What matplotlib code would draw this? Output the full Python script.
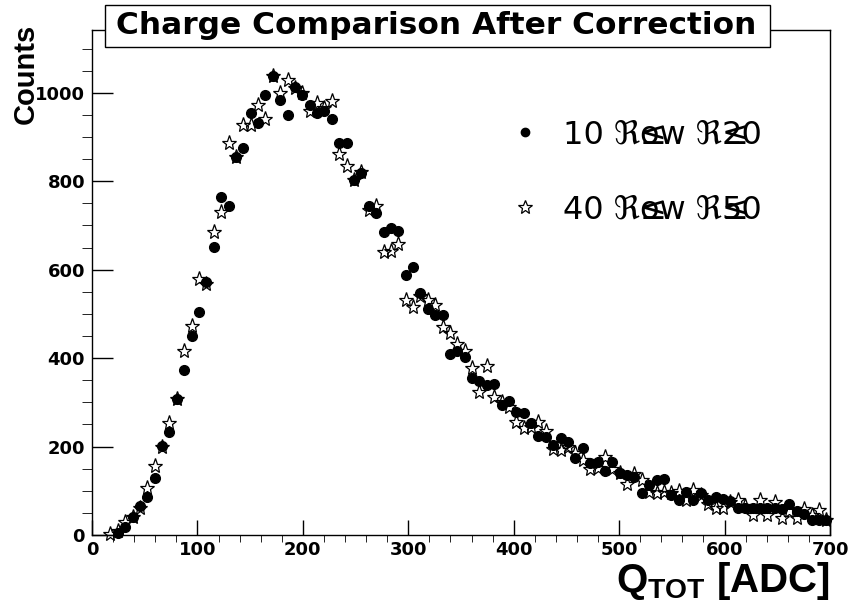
import numpy as np
import matplotlib
matplotlib.use('Agg')
import matplotlib.pyplot as plt
from matplotlib.patches import Rectangle
from matplotlib.lines import Line2D
from matplotlib.ticker import MultipleLocator

plt.rcParams['font.family'] = ['DejaVu Sans']
plt.rcParams['mathtext.fontset'] = 'custom'
plt.rcParams['mathtext.bf'] = 'Liberation Sans:bold'
plt.rcParams['mathtext.rm'] = 'Liberation Sans:bold'

# histogram binning: 100 bins of width 7 ADC on [0, 700], data starts at bin 2
bin_width = 7
first_bin = 2

# counts, bin centres 17.5 ... 696.5
row10_20 = [np.nan, 5, 17, 40, 65, 87, 128, 202, 232, 308,
            373, 449, 505, 573, 651, 764, 745, 854, 875, 954,
            931, 995, 1038, 983, 950, 1014, 995, 973, 955, 958,
            941, 886, 886, 803, 819, 744, 728, 686, 695, 688,
            588, 606, 547, 511, 497, 498, 409, 415, 403, 356,
            349, 339, 341, 294, 302, 278, 275, 254, 224, 222,
            204, 219, 211, 174, 196, 162, 166, 145, 164, 140,
            136, 132, 95, 113, 125, 127, 90, 79, 98, 80,
            94, 79, 87, 81, 77, 62, 62, 62, 62, 62,
            62, 58, 70, 55, 48, 35, 35, 35]
row40_50 = [2, 8, 30, 41, 62, 106, 155, 200, 253, 307,
            415, 473, 578, 568, 686, 731, 886, 854, 928, 928,
            973, 941, 1038, 1000, 1029, 1010, 1000, 958, 977, 965,
            981, 862, 835, 803, 822, 735, 745, 640, 643, 657,
            532, 516, 540, 532, 521, 470, 456, 431, 415, 377,
            324, 382, 313, 300, 290, 255, 241, 244, 255, 235,
            195, 193, 200, 185, 170, 150, 152, 176, 150, 140,
            115, 138, 125, 98, 95, 98, 95, 100, 79, 102,
            90, 70, 60, 60, 75, 79, 65, 45, 79, 45,
            75, 38, 55, 38, 58, 45, 57, 35]

x = (np.arange(first_bin, first_bin + len(row10_20)) + 0.5) * bin_width

W, H = 850, 602
def fx(px):
    return px / W
def fy(py):
    return 1 - py / H

fig = plt.figure(figsize=(8.5, 6.02), dpi=100)
ax = fig.add_axes([fx(92), fy(535), (830 - 92) / W, (535 - 30) / H])

ax.plot(x, row10_20, 'o', ms=7, color='black', ls='none', clip_on=False)
ax.plot(x, row40_50, '*', ms=11, mfc='none', mec='black', mew=0.9,
        ls='none', clip_on=False)

ax.set_xlim(0, 700)
ax.set_ylim(0, 1142)
ax.xaxis.set_major_locator(MultipleLocator(100))
ax.xaxis.set_minor_locator(MultipleLocator(20))
ax.yaxis.set_major_locator(MultipleLocator(200))
ax.yaxis.set_minor_locator(MultipleLocator(50))
ax.tick_params(direction='in', top=False, right=False, width=1)
ax.tick_params(axis='x', which='major', length=11, pad=4, labelsize=13)
ax.tick_params(axis='x', which='minor', length=5)
ax.tick_params(axis='y', which='major', length=15, pad=5, labelsize=13)
ax.tick_params(axis='y', which='minor', length=7)
for lbl in ax.get_xticklabels() + ax.get_yticklabels():
    lbl.set_fontweight('bold')
for s in ax.spines.values():
    s.set_linewidth(1)

# title box
fig.add_artist(Rectangle((fx(105), fy(47)), (770 - 105) / W, 42 / H,
                         transform=fig.transFigure, fc='white', ec='black',
                         lw=1, zorder=5))
fig.text(fx(436), fy(26), 'Charge Comparison After Correction',
         ha='center', va='center', fontsize=22.5, fontweight='bold', zorder=6)

fig.text(fx(26), fy(74), 'Counts', rotation=90, ha='center', va='center',
         fontsize=21, fontweight='bold', family='Liberation Sans')
fig.text(fx(830), fy(592), r'$\mathbf{Q_{TOT}}$ [ADC]', ha='right',
         va='baseline', fontsize=29, fontweight='bold',
         family='Liberation Sans')

# legend
fig.add_artist(Line2D([fx(525)], [fy(132)], marker='o', ms=6, color='black',
                      transform=fig.transFigure))
fig.add_artist(Line2D([fx(525)], [fy(207)], marker='*', ms=10, mfc='none',
                      mec='black', mew=0.9, transform=fig.transFigure))

legend_rows = [('10 ℜ', 'ow ℜ', '20', 144), ('40 ℜ', 'ow ℜ', '50', 219)]
for a, b, c, base in legend_rows:
    t1 = fig.text(fx(563), fy(base), a, ha='left', va='baseline', fontsize=23)
    t2 = ax.annotate(b, xy=(1, 0), xycoords=t1, ha='left', va='bottom',
                     fontsize=23, annotation_clip=False)
    ax.annotate('≤', xy=(1, 0), xycoords=t1, ha='left', va='bottom',
                fontsize=23, annotation_clip=False)
    ax.annotate(c, xy=(1, 0), xycoords=t2, ha='left', va='bottom',
                fontsize=23, annotation_clip=False)
    ax.annotate('≤', xy=(1, 0), xycoords=t2, ha='left', va='bottom',
                fontsize=23, annotation_clip=False)

fig.savefig('out.png', dpi=100)
